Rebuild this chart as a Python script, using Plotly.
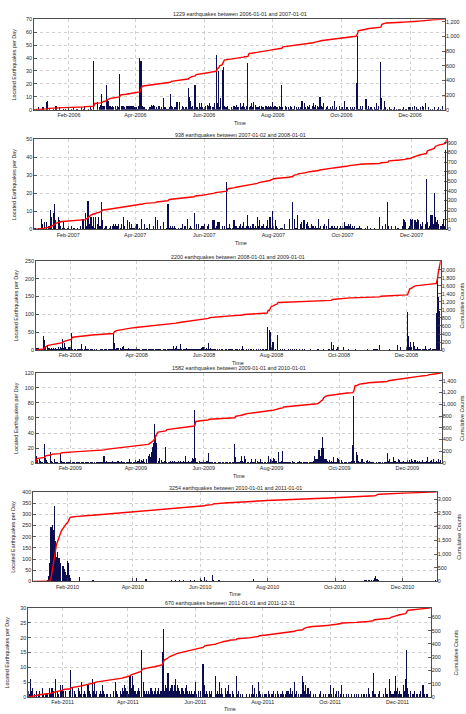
import calendar
import datetime as dt
import numpy as np
import plotly.graph_objects as go

# ---------------- data ----------------
TITLES = [
    "1229 earthquakes between 2006-01-01 and 2007-01-01",
    "938 earthquakes between 2007-01-02 and 2008-01-01",
    "2200 earthquakes between 2008-01-01 and 2009-01-01",
    "1582 earthquakes between 2009-01-01 and 2010-01-01",
    "3254 earthquakes between 2010-01-01 and 2011-01-01",
    "670 earthquakes between 2011-01-01 and 2011-12-31",
]
YEARS = [2006, 2007, 2008, 2009, 2010, 2011]
STARTS = ["2006-01-01", "2007-01-02", "2008-01-01", "2009-01-01", "2010-01-01", "2011-01-01"]
ENDS = ["2007-01-01", "2008-01-01", "2009-01-01", "2010-01-01", "2011-01-01", "2011-12-31"]
LEFT_MAX = [70, 50, 250, 120, 400, 30]
LEFT_STEP = [10, 10, 50, 20, 50, 5]
RIGHT_STEP = [200, 100, 200, 200, 500, 100]
RIGHT_TOP_TICK = [1200, 900, 2000, 1400, 3000, 600]
Y_TITLE = "Located Earthquakes per Day"
Y2_TITLE = "Cumulative Counts"
X_TITLE = "Time"

# daily counts per month (one digit per day) + larger daily counts
DAYS_2006 = [
    "1010200020067010010330020010100", "1010200110020130010310000602",
    "4033313333232313220332133333332", "221300322110124343121312132211",
    "2032122606013212101723152215252", "130435302510552122322311213324",
    "2252352135235260422313221323232", "6232213212032021321302121271521",
    "324135241320325012312131712031", "1217121021212021131301013122121",
    "513000172010210120101101201102", "2020302102032050201010201201030",
]
PEAKS_2006 = {
    "2006-02-23": 38, "2006-03-02": 12, "2006-03-06": 19, "2006-03-07": 8, "2006-03-08": 7,
    "2006-03-18": 28, "2006-04-05": 40, "2006-04-06": 38, "2006-04-26": 9, "2006-05-02": 12,
    "2006-05-18": 17, "2006-05-19": 10, "2006-05-24": 19, "2006-06-12": 42, "2006-06-14": 30,
    "2006-06-16": 9, "2006-06-17": 31, "2006-06-18": 33, "2006-07-10": 36, "2006-08-09": 19,
    "2006-09-12": 10, "2006-10-14": 21, "2006-10-15": 57, "2006-10-22": 8, "2006-10-23": 8,
    "2006-11-05": 37, "2006-11-06": 9,
}
DAYS_2007 = [
    "0110010630404020709050752014101", "1002010010020609200372717037",
    "2050122012023232301307205041311", "033010603011030020705020040010",
    "1212121010113020601210903030122", "300230055512440020200131015521",
    "1231241282121312172512311251710", "1052101110300060000618003415034",
    "211321211612023020612212112121", "1142232312121112110010200100100",
    "007020030020200020100026540126", "5605465032403141288307453023620",
]
PEAKS_2007 = {
    "2007-01-16": 11, "2007-01-20": 14, "2007-02-18": 16, "2007-02-19": 16, "2007-03-02": 15,
    "2007-04-30": 14, "2007-06-21": 26, "2007-07-31": 10, "2007-08-18": 15, "2007-11-10": 15,
    "2007-12-14": 28, "2007-12-21": 20, "2007-12-31": 44,
}
DAYS_2008 = [
    "5763214009056463545283950608398", "30402312230203022132213121032",
    "2132312232004565739032435342323", "324313242313242314324231324132",
    "3240350423034345432232433242358", "435204532321312132122132423132",
    "2131203121212312131212132120000", "5000300121213102131202131201312",
    "100120100112001020100200300128", "1010801002010102010010011020101",
    "324220010101001201001001081101", "3009090043823213202132504230000",
]
PEAKS_2008 = {
    "2008-01-08": 38, "2008-01-09": 28, "2008-01-11": 15, "2008-01-25": 30, "2008-01-27": 20,
    "2008-02-02": 49, "2008-02-11": 16, "2008-02-15": 10, "2008-03-11": 48, "2008-03-12": 20,
    "2008-03-20": 10, "2008-05-04": 12, "2008-05-07": 10, "2008-05-11": 16, "2008-06-05": 20,
    "2008-07-06": 10, "2008-07-28": 64, "2008-07-30": 55, "2008-07-31": 50, "2008-08-02": 22,
    "2008-08-03": 22, "2008-08-06": 43, "2008-09-24": 22, "2008-09-26": 15, "2008-11-07": 15,
    "2008-11-23": 13, "2008-12-02": 108, "2008-12-03": 40, "2008-12-05": 23, "2008-12-07": 23,
    "2008-12-08": 10, "2008-12-18": 10, "2008-12-28": 105, "2008-12-29": 200,
    "2008-12-30": 150, "2008-12-31": 110,
}
DAYS_2009 = [
    "0046321007410031051210031210211", "1021101120111021101120101121",
    "2190232121321213223112012612012", "423524352050080000003704213021",
    "2313232132312329231237507203122", "121301212012012102102101201208",
    "1213031062102612163125120112915", "2376300123021212120312021312012",
    "120212139660090006531423281275", "1041021011230030032155213413212",
    "102011201021035121832254121312", "3242532413132141238123415231624",
]
PEAKS_2009 = {
    "2009-01-01": 71, "2009-01-02": 10, "2009-01-09": 25, "2009-01-14": 15, "2009-01-23": 13,
    "2009-03-04": 10, "2009-04-12": 10, "2009-04-13": 12, "2009-04-15": 15, "2009-04-16": 22,
    "2009-04-17": 27, "2009-04-18": 52, "2009-04-19": 37, "2009-04-20": 27, "2009-04-28": 22,
    "2009-05-24": 70, "2009-06-05": 14, "2009-06-29": 26, "2009-07-05": 10, "2009-07-08": 10,
    "2009-08-07": 15, "2009-08-11": 16, "2009-09-12": 17, "2009-09-13": 17, "2009-09-15": 20,
    "2009-09-16": 35, "2009-09-17": 20, "2009-10-13": 24, "2009-10-14": 89, "2009-10-16": 15,
    "2009-10-17": 11, "2009-11-13": 14,
}
DAYS_2010 = [
    "0000000000000000000000000000000", "0086232121202213123234253423",
    "3242324232432342324334243234342", "324034231343034232433243234232",
    "3424352436245342534343524362433", "053403524340534235342132423132",
    "2312321323123231210232123212321", "2312122131231223122121012120212",
    "223121312212120212012120121212", "1212012181212012102112021205535",
    "535450006323121231212121312121", "2120121212021210212121202121228",
]
PEAKS_2010 = {
    "2010-01-14": 5, "2010-01-15": 25, "2010-01-16": 80, "2010-01-17": 245, "2010-01-18": 250,
    "2010-01-19": 230, "2010-01-20": 335, "2010-01-21": 180, "2010-01-22": 110,
    "2010-01-23": 130, "2010-01-24": 105, "2010-01-25": 105, "2010-01-26": 80,
    "2010-01-27": 70, "2010-01-28": 70, "2010-01-29": 55, "2010-01-30": 40, "2010-01-31": 30,
    "2010-02-01": 90, "2010-02-02": 80, "2010-02-03": 30, "2010-02-04": 15, "2010-02-12": 20,
    "2010-04-04": 14, "2010-04-13": 10, "2010-06-01": 10, "2010-06-05": 20, "2010-06-12": 28,
    "2010-07-19": 10, "2010-11-06": 15, "2010-11-07": 25, "2010-11-08": 10,
}
DAYS_2011 = [
    "2162301201200310110313320621042", "4202002903021032150121042106",
    "2512012142101101002052102132432", "217374221232005212121321231231",
    "2002438823424624321321342121212", "510202004121021200712151310312",
    "4110210712010100100101413105210", "1011021011201210112101221312051",
    "210117524131200101001200101001", "4103012021401001010100101010101",
    "101031028110012001031106211272", "3121142603102012011012041011000",
]
PEAKS_2011 = {
    "2011-04-13": 16, "2011-05-02": 15, "2011-05-03": 23, "2011-06-08": 11, "2011-12-09": 16,
}

DAYS = [DAYS_2006, DAYS_2007, DAYS_2008, DAYS_2009, DAYS_2010, DAYS_2011]
PEAKS = [PEAKS_2006, PEAKS_2007, PEAKS_2008, PEAKS_2009, PEAKS_2010, PEAKS_2011]

# ---------------- layout geometry (pixels) ----------------
W, H = 466, 714
BOXES = [  # left, right, top, bottom
    (34.0, 445.0, 16.3, 107.7),
    (34.3, 446.7, 137.3, 228.3),
    (36.0, 440.7, 260.0, 350.0),
    (35.7, 441.7, 373.0, 464.0),
    (33.3, 436.7, 493.0, 583.3),
    (28.3, 430.7, 610.0, 700.0),
]
TITLE_Y = [11, 133, 256, 368, 489, 605]
TIME_Y = [121, 242, 363, 477, 596, 712]
YT_X = [14, 14, 16, 16, 13, 7]
Y2T_X = [None, None, 462, 462, 459, 456]

FONT = "Liberation Sans, Arial, sans-serif"
TXT = "#262626"
FS = 5.4
BAR_COLOR = "#0c0c50"
LINE_COLOR = "#ff0000"
AX_COLOR = "#3a3a3a"
GRID_COLOR = "#c4c4c4"


def build_daily(year, months, peaks, start, end):
    dates, vals = [], []
    for m, s in enumerate(months, start=1):
        nd = calendar.monthrange(year, m)[1]
        for i in range(nd):
            dates.append(dt.date(year, m, i + 1))
            vals.append(int(s[i]) if i < len(s) else 0)
    for k, v in peaks.items():
        vals[dates.index(dt.date.fromisoformat(k))] = v
    s0, e0 = dt.date.fromisoformat(start), dt.date.fromisoformat(end)
    pairs = [(d, v) for d, v in zip(dates, vals) if s0 <= d < e0]
    return [p[0] for p in pairs], [p[1] for p in pairs]


fig = go.Figure()
annotations = []
layout = {}

for k in range(6):
    n = k + 1
    xa = "x" if n == 1 else f"x{n}"
    ya = f"y{2 * n - 1}" if n > 1 else "y"
    yb = f"y{2 * n}"
    dates, vals = build_daily(YEARS[k], DAYS[k], PEAKS[k], STARTS[k], ENDS[k])
    cum = np.cumsum(vals)
    total = int(cum[-1])
    cx = [STARTS[k]] + [(d + dt.timedelta(days=1)).isoformat() for d in dates]
    cy = [0] + cum.tolist()

    fig.add_trace(go.Bar(x=[d.isoformat() for d in dates], y=vals, xaxis=xa, yaxis=ya,
                         marker=dict(color=BAR_COLOR, line=dict(width=0)),
                         width=0.97 * 86400000, hoverinfo="skip"))
    fig.add_trace(go.Scatter(x=cx, y=cy, xaxis=xa, yaxis=yb, mode="lines",
                             line=dict(color=LINE_COLOR, width=1.4), hoverinfo="skip"))

    l, r, t, b = BOXES[k]
    xdom = [l / W, r / W]
    ydom = [1 - b / H, 1 - t / H]
    xkey = "xaxis" if n == 1 else f"xaxis{n}"
    ykey = "yaxis" if n == 1 else f"yaxis{2 * n - 1}"
    y2key = f"yaxis{2 * n}"
    rticks = list(range(0, RIGHT_TOP_TICK[k] + 1, RIGHT_STEP[k]))
    layout[xkey] = dict(
        domain=xdom, anchor=ya, type="date", range=[STARTS[k], ENDS[k]],
        tick0=f"{YEARS[k]}-02-01", dtick="M2", tickformat="%b-%Y",
        ticks="inside", ticklen=3, tickwidth=0.8, tickcolor=AX_COLOR,
        showline=True, linecolor=AX_COLOR, linewidth=0.9, mirror=True,
        showgrid=True, gridcolor=GRID_COLOR, gridwidth=0.8, griddash="dot",
        zeroline=False, tickfont=dict(size=FS, color=TXT, family=FONT),
    )
    layout[ykey] = dict(
        domain=ydom, anchor=xa, range=[0, LEFT_MAX[k]], dtick=LEFT_STEP[k], tick0=0,
        ticks="inside", ticklen=3, tickwidth=0.8, tickcolor=AX_COLOR,
        showline=True, linecolor=AX_COLOR, linewidth=0.9, mirror=True,
        showgrid=True, gridcolor=GRID_COLOR, gridwidth=0.8, griddash="dot",
        zeroline=False, tickfont=dict(size=FS, color=TXT, family=FONT),
    )
    layout[y2key] = dict(
        overlaying=ya, side="right", anchor=xa, range=[0, total],
        tickmode="array", tickvals=rticks, tickformat=",d",
        ticks="inside", ticklen=3, tickwidth=0.8, tickcolor=AX_COLOR,
        showline=False, showgrid=False, zeroline=False,
        tickfont=dict(size=FS, color=TXT, family=FONT),
    )
    cxp = (l + r) / 2 / W
    annotations.append(dict(text=TITLES[k], x=cxp, y=1 - TITLE_Y[k] / H, xref="paper", yref="paper",
                            showarrow=False, xanchor="center", yanchor="middle",
                            font=dict(size=FS, color=TXT, family=FONT)))
    annotations.append(dict(text=X_TITLE, x=cxp, y=1 - TIME_Y[k] / H, xref="paper", yref="paper",
                            showarrow=False, xanchor="center", yanchor="middle",
                            font=dict(size=FS, color=TXT, family=FONT)))
    annotations.append(dict(text=Y_TITLE, x=YT_X[k] / W, y=1 - (t + b) / 2 / H, xref="paper",
                            yref="paper", showarrow=False, textangle=-90, xanchor="center",
                            yanchor="middle", font=dict(size=FS, color=TXT, family=FONT)))
    if Y2T_X[k] is not None:
        annotations.append(dict(text=Y2_TITLE, x=Y2T_X[k] / W, y=1 - (t + b) / 2 / H, xref="paper",
                                yref="paper", showarrow=False, textangle=-90, xanchor="center",
                                yanchor="middle", font=dict(size=FS, color=TXT, family=FONT)))

fig.update_layout(
    width=W, height=H, margin=dict(l=0, r=0, t=0, b=0),
    paper_bgcolor="white", plot_bgcolor="white", showlegend=False,
    font=dict(family=FONT, size=FS, color=TXT),
    annotations=annotations, bargap=0, hovermode=False, **layout,
)

fig.write_html(
    "out.html",
    config={"displayModeBar": False, "staticPlot": True},
    post_script="document.body.style.margin='0px';document.body.style.overflow='hidden';",
)
